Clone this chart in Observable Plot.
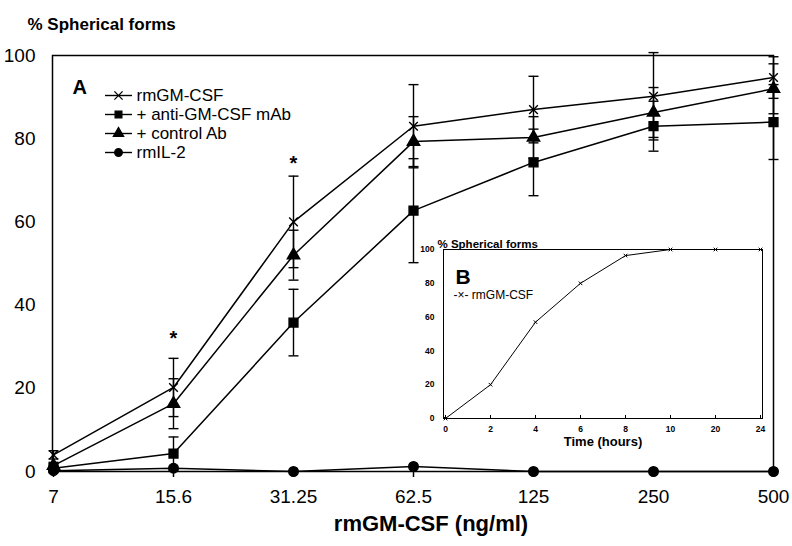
<!DOCTYPE html>
<html>
<head>
<meta charset="utf-8">
<script src="https://cdn.jsdelivr.net/npm/d3@7"></script>
<script src="https://cdn.jsdelivr.net/npm/@observablehq/plot@0.6"></script>
<style>
  html, body { margin: 0; padding: 0; background: white; }
  #wrap { position: relative; width: 792px; height: 546px; font-family: "Liberation Sans", Arial, sans-serif; }
  #wrap svg { position: absolute; }
</style>
</head>
<body>
<div id="wrap"></div>
<script>
// ---------- Data (panel A) ----------
const doses = ["7", "15.6", "31.25", "62.5", "125", "250", "500"];
const seriesNames = ["rmGM-CSF", "+ anti-GM-CSF mAb", "+ control Ab", "rmIL-2"];
const seriesSymbols = ["times", "square", "triangle", "circle"];
const seriesRadius = [4, 5, 4.6, 4.8];
const rmGMCSF      = [4.0, 20.2, 60.0, 83.0, 87.0, 90.2, 94.7];
const rmGMCSFErr   = [1.0, 7.0, 11.0, 10.0, 8.0, 10.5, 5.0];
const antiMAb      = [0.8, 4.3, 35.8, 62.7, 74.3, 83.0, 84.0];
const antiMAbErr   = [0.5, 4.0, 8.0, 12.5, 8.0, 6.0, 9.0];
const controlAb    = [1.4, 16.3, 52.0, 79.3, 80.3, 86.3, 92.0];
const controlAbErr = [0.8, 6.0, 6.0, 6.0, 5.0, 6.0, 6.0];
const rmIL2        = [0.2, 0.8, 0.0, 1.2, 0.0, 0.0, 0.0];
const rmIL2Err     = [0, 0, 0, 0, 0, 0, 0];
const yTicks = [0, 20, 40, 60, 80, 100];
const starDoses = ["15.6", "31.25"];
const starY = [32, 74];

// ---------- Data (panel B inset) ----------
const hours = ["0", "2", "4", "6", "8", "10", "20", "24"];
const insetValues = [0, 20, 57, 80, 96.4, 100, 100, 100];

const valueSets = [rmGMCSF, antiMAb, controlAb, rmIL2];
const errSets = [rmGMCSFErr, antiMAbErr, controlAbErr, rmIL2Err];
const rows = seriesNames.flatMap((name, s) =>
  doses.map((d, i) => ({dose: d, value: valueSets[s][i], err: errSets[s][i], series: name, r: seriesRadius[s]}))
);
const errRows = rows.filter(d => d.err > 0);
const stars = starDoses.map((d, i) => ({dose: d, y: starY[i]}));

const font = "Liberation Sans, Arial, sans-serif";

// horizontal cap symbol for error bars
const capSymbol = {draw(context) { context.moveTo(-5, 0); context.lineTo(5, 0); }};

const main = Plot.plot({
  width: 792, height: 546,
  marginLeft: 52, marginRight: 19, marginTop: 55, marginBottom: 75,
  style: {fontFamily: font, background: "white", color: "black"},
  x: {type: "point", domain: doses, padding: 0},
  y: {domain: [0, 100]},
  r: {type: "identity"},
  symbol: {domain: seriesNames, range: seriesSymbols},
  marks: [
    Plot.frame({stroke: "black", strokeWidth: 1.5}),
    Plot.axisY({ticks: yTicks, tickSize: 0, tickPadding: 17, fontSize: 19, label: null}),
    Plot.axisX({tickSize: 6, tickPadding: 12, fontSize: 19, label: null, strokeWidth: 1.5}),
    Plot.ruleX(errRows, {x: "dose", y1: d => d.value - d.err, y2: d => d.value + d.err, stroke: "black", strokeWidth: 1.4}),
    Plot.dot(errRows, {x: "dose", y: d => d.value + d.err, symbol: capSymbol, fill: "none", stroke: "black", strokeWidth: 1.4}),
    Plot.dot(errRows, {x: "dose", y: d => d.value - d.err, symbol: capSymbol, fill: "none", stroke: "black", strokeWidth: 1.4}),
    Plot.line(rows, {x: "dose", y: "value", z: "series", stroke: "black", strokeWidth: 1.5}),
    Plot.dot(rows, {x: "dose", y: "value", symbol: "series", r: "r",
      fill: d => d.series === "rmGM-CSF" ? "white" : "black", stroke: "black", strokeWidth: 1.4}),
    Plot.text(stars, {x: "dose", y: "y", text: () => "*", fontSize: 20, fontWeight: "bold"}),
    Plot.text(["% Spherical forms"], {frameAnchor: "top-left", dx: -25, dy: -38, textAnchor: "start", fontSize: 17, fontWeight: "bold"}),
    Plot.text(["rmGM-CSF (ng/ml)"], {frameAnchor: "bottom", dx: 18, dy: 59, fontSize: 22, fontWeight: "bold"}),
    Plot.text(["A"], {frameAnchor: "top-left", dx: 20, dy: 24, textAnchor: "start", fontSize: 20, fontWeight: "bold"})
  ]
});
main.style.left = "0px"; main.style.top = "0px";

// Legend for panel A
const legend = Plot.plot({
  width: 260, height: 110, margin: 0,
  style: {fontFamily: font, background: "transparent", color: "black"},
  x: {domain: [0, 260], range: [0, 260], axis: null},
  y: {type: "point", domain: seriesNames, range: [15, 92], axis: null},
  symbol: {domain: seriesNames, range: seriesSymbols},
  marks: [
    Plot.ruleY(seriesNames, {y: d => d, x1: 10, x2: 37, stroke: "black", strokeWidth: 1.4}),
    Plot.dot(seriesNames, {x: 23, y: d => d, symbol: d => d, fill: d => d === "rmGM-CSF" ? "white" : "black",
      stroke: "black", strokeWidth: 1.3, r: 3.8}),
    Plot.text(seriesNames, {x: 41, y: d => d, text: d => d, textAnchor: "start", fontSize: 17})
  ]
});
legend.style.left = "95px"; legend.style.top = "70px";

// Inset panel B
const insetRows = hours.map((h, i) => ({h, v: insetValues[i]}));
const inset = Plot.plot({
  width: 392, height: 235,
  marginLeft: 43, marginRight: 30, marginTop: 24, marginBottom: 42,
  style: {fontFamily: font, background: "transparent", color: "black"},
  x: {type: "point", domain: hours, padding: 0},
  y: {domain: [0, 100]},
  marks: [
    Plot.frame({stroke: "black", strokeWidth: 1}),
    Plot.axisY({ticks: yTicks, tickSize: 0, tickPadding: 9, fontSize: 8.5, fontWeight: "bold", label: null}),
    Plot.axisX({tickSize: 0, tickPadding: 7, fontSize: 8.5, fontWeight: "bold", label: null}),
    Plot.ruleX(hours, {x: d => d, y1: 0, y2: 1.8, stroke: "black", strokeWidth: 1}),
    Plot.line(insetRows, {x: "h", y: "v", stroke: "black", strokeWidth: 1}),
    Plot.dot(insetRows, {x: "h", y: "v", symbol: "times", r: 1.8, stroke: "black", strokeWidth: 1}),
    Plot.text(["% Spherical forms"], {frameAnchor: "top-left", dx: -6, dy: -10, textAnchor: "start", fontSize: 11.5, fontWeight: "bold"}),
    Plot.text(["B"], {frameAnchor: "top-left", dx: 12, dy: 20, textAnchor: "start", fontSize: 21, fontWeight: "bold"}),
    Plot.text(["-×- rmGM-CSF"], {frameAnchor: "top-left", dx: 10, dy: 41, textAnchor: "start", fontSize: 12}),
    Plot.text(["Time (hours)"], {frameAnchor: "bottom", dy: 27, fontSize: 13, fontWeight: "bold"})
  ]
});
inset.style.left = "400px"; inset.style.top = "225px";

const wrap = document.getElementById("wrap");
wrap.appendChild(main);
wrap.appendChild(legend);
wrap.appendChild(inset);
</script>
</body>
</html>
